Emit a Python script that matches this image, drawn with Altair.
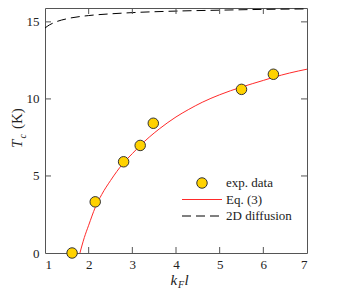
import altair as alt
import pandas as pd

# experimental data
exp_x = [1.62, 2.15, 2.80, 3.18, 3.48, 5.50, 6.23]
exp_y = [0.0, 3.32, 5.92, 6.98, 8.42, 10.62, 11.60]

# Eq. (3) curve
eq_x = [1.80, 1.90, 2.00, 2.15, 2.30, 2.50, 2.79, 3.00, 3.17, 3.40, 3.63, 4.00, 4.28, 4.60, 5.00, 5.49, 6.00, 6.23, 6.60, 7.00]
eq_y = [0.0, 1.0, 1.8, 2.95, 3.8, 4.7, 5.82, 6.45, 6.95, 7.55, 8.08, 8.83, 9.3, 9.78, 10.27, 10.76, 11.2, 11.4, 11.68, 11.93]

# 2D diffusion curve
df_x = [1.0, 1.1, 1.25, 1.5, 2.0, 2.5, 3.0, 4.0, 5.0, 6.0, 7.0]
df_y = [14.6, 14.8, 15.0, 15.2, 15.41, 15.52, 15.6, 15.7, 15.76, 15.81, 15.84]

x_ticks = [1, 2, 3, 4, 5, 6, 7]
y_ticks = [0, 5, 10, 15]
x_inner = [2, 3, 4, 5, 6]
y_inner = [5, 10, 15]

legend_labels = ["exp. data", "Eq. (3)", "2D diffusion"]

W, H = 262, 245
FONT = "Liberation Serif"
FRAME = "#555555"

xs = alt.Scale(domain=[1, 7], nice=False, zero=False)
ys = alt.Scale(domain=[0, 15.9], nice=False, zero=False)

xax = alt.Axis(values=x_ticks, ticks=False, domain=False, grid=False, title=None,
               labelFont=FONT, labelFontSize=13, labelColor="#222", labelPadding=5,
               format="d")
yax = alt.Axis(values=y_ticks, ticks=False, domain=False, grid=False, title=None,
               labelFont=FONT, labelFontSize=13, labelColor="#222", labelPadding=6,
               format="d")

exp_df = pd.DataFrame({"x": exp_x, "y": exp_y})
eq_df = pd.DataFrame({"x": eq_x, "y": eq_y})
dd_df = pd.DataFrame({"x": df_x, "y": df_y})

dashed = alt.Chart(dd_df).mark_line(color="black", strokeWidth=1, strokeDash=[9, 5],
                                    interpolate="monotone", clip=True).encode(
    x=alt.X("x:Q", scale=xs, axis=xax), y=alt.Y("y:Q", scale=ys, axis=yax))
eq = alt.Chart(eq_df).mark_line(color="#ff2a2a", strokeWidth=1,
                                interpolate="monotone", clip=True).encode(
    x=alt.X("x:Q", scale=xs), y=alt.Y("y:Q", scale=ys))
pts = alt.Chart(exp_df).mark_point(filled=True, shape="circle", size=110, fill="#FFD200",
                                   stroke="#333333", strokeWidth=1, opacity=1).encode(
    x=alt.X("x:Q", scale=xs), y=alt.Y("y:Q", scale=ys))

tx = pd.DataFrame({"v": x_inner})
ty = pd.DataFrame({"v": y_inner})
tick_b = alt.Chart(tx).mark_rule(color=FRAME, strokeWidth=1).encode(
    x=alt.X("v:Q", scale=xs), y=alt.value(H), y2=alt.value(H - 6))
tick_t = alt.Chart(tx).mark_rule(color=FRAME, strokeWidth=1).encode(
    x=alt.X("v:Q", scale=xs), y=alt.value(0), y2=alt.value(6))
tick_l = alt.Chart(ty).mark_rule(color=FRAME, strokeWidth=1).encode(
    y=alt.Y("v:Q", scale=ys), x=alt.value(0), x2=alt.value(6))
tick_r = alt.Chart(ty).mark_rule(color=FRAME, strokeWidth=1).encode(
    y=alt.Y("v:Q", scale=ys), x=alt.value(W), x2=alt.value(W - 6))

# legend
one = lambda s: pd.DataFrame({"t": [s]})
leg_pt = alt.Chart(one("p")).mark_point(filled=True, shape="circle", size=110, fill="#FFD200",
                                        stroke="#333333", strokeWidth=1, opacity=1).encode(
    x=alt.value(157), y=alt.value(175))
leg_red = alt.Chart(one("r")).mark_rule(color="#ff2a2a", strokeWidth=1).encode(
    x=alt.value(137), x2=alt.value(177), y=alt.value(191.5))
leg_dash = alt.Chart(one("d")).mark_rule(color="black", strokeWidth=1, strokeDash=[9, 5]).encode(
    x=alt.value(137), x2=alt.value(177), y=alt.value(208))
leg_txt = [
    alt.Chart(one(lab)).mark_text(font=FONT, fontSize=13, color="#222", align="left",
                                  baseline="middle").encode(
        text="t:N", x=alt.value(181), y=alt.value(yy))
    for lab, yy in zip(legend_labels, [175, 191.5, 208])
]

# axis titles
def txt(s, x, y, size, italic=True, angle=0):
    kw = dict(font=FONT, fontSize=size, color="#222", align="left", baseline="alphabetic")
    if italic:
        kw["fontStyle"] = "italic"
    if angle:
        kw["angle"] = angle
    return alt.Chart(one(s)).mark_text(**kw).encode(text="t:N", x=alt.value(x), y=alt.value(y))

xt = [txt("k", 125.5, 277, 15), txt("F", 133, 280, 10), txt("l", 139.5, 277, 15)]
yt = [txt("T", -23, 140, 15, angle=270), txt("c", -19.5, 130.5, 10, angle=270),
      txt("(K)", -23, 121, 15, italic=False, angle=270)]

chart = alt.layer(dashed, eq, pts, tick_b, tick_t, tick_l, tick_r,
                  leg_pt, leg_red, leg_dash, *leg_txt, *xt, *yt).properties(
    width=W, height=H,
    background="white",
    autosize=alt.AutoSizeParams(type="none"),
    padding={"left": 37, "top": 0, "right": 24, "bottom": 40},
).configure_view(stroke=FRAME, strokeWidth=1)

chart.save("out.html", embed_options={"renderer": "svg", "actions": False})
